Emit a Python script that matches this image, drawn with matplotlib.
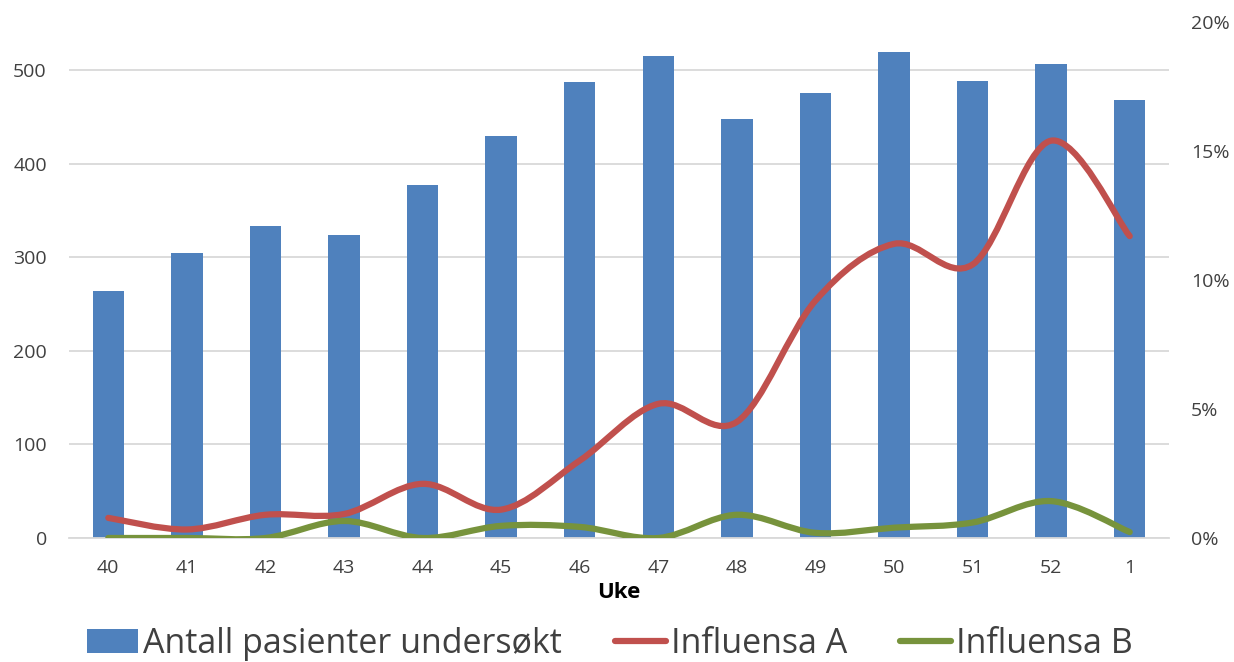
import numpy as np
import matplotlib.pyplot as plt
from matplotlib.path import Path
from matplotlib.patches import PathPatch, Patch
from matplotlib.lines import Line2D
from matplotlib.ticker import FuncFormatter

plt.rcParams['font.family'] = ['Open Sans', 'DejaVu Sans']

weeks = ['40', '41', '42', '43', '44', '45', '46', '47', '48', '49', '50', '51', '52', '1']
patients = [264, 304, 333, 324, 377, 430, 487, 515, 448, 475, 519, 488, 506, 468]
flu_a = [0.78, 0.33, 0.90, 0.93, 2.10, 1.10, 3.00, 5.20, 4.50, 9.20, 11.40, 10.60, 15.40, 11.70]
flu_b = [0.0, 0.0, 0.0, 0.66, 0.0, 0.47, 0.43, 0.0, 0.90, 0.20, 0.40, 0.60, 1.43, 0.23]

blue = '#4F81BD'
red = '#C0504D'
green = '#77933C'
grid = '#D9D9D9'
txt = '#404040'


def smooth_path(xs, ys):
    # excel-style smoothed line: catmull-rom segments as cubic bezier
    p = np.column_stack([xs, ys]).astype(float)
    n = len(p)
    verts = [p[0]]
    codes = [Path.MOVETO]
    for i in range(n - 1):
        p0 = p[i - 1] if i > 0 else p[i]
        p3 = p[i + 2] if i + 2 < n else p[i + 1]
        c1 = p[i] + (p[i + 1] - p0) / 6
        c2 = p[i + 1] - (p3 - p[i]) / 6
        verts += [c1, c2, p[i + 1]]
        codes += [Path.CURVE4] * 3
    return Path(verts, codes)


fig = plt.figure(figsize=(12.34, 6.62), dpi=100)
ax = fig.add_axes([69 / 1234, 124 / 662, 1100 / 1234, 516 / 662])
ax2 = ax.twinx()

x = np.arange(len(weeks))
ax.bar(x, patients, width=0.40, color=blue, zorder=2)
ax.set_xlim(-0.5, len(weeks) - 0.5)
ax.set_ylim(0, 551.3)
ax.set_yticks([0, 100, 200, 300, 400, 500])
ax.yaxis.grid(True, color=grid, linewidth=1.3, zorder=0)
ax.set_axisbelow(True)
ax.set_xticks(x)
ax.set_xticklabels(weeks)
ax.tick_params(axis='both', length=0, labelsize=14, labelcolor=txt)
ax.tick_params(axis='y', pad=16)
ax.tick_params(axis='x', pad=15)
ax.set_xlabel('Uke', fontsize=16, fontweight='bold', labelpad=4)

ax2.set_ylim(0, 20)
ax2.set_yticks([0, 5, 10, 15, 20])
ax2.yaxis.set_major_formatter(FuncFormatter(lambda v, pos: '%d%%' % v))
ax2.tick_params(axis='y', length=0, labelsize=14, labelcolor=txt, pad=16)

for a in (ax, ax2):
    for s in a.spines.values():
        s.set_visible(False)
ax.spines['bottom'].set_visible(True)
ax.spines['bottom'].set_color(grid)
ax.spines['bottom'].set_linewidth(1.3)

for vals, col in ((flu_a, red), (flu_b, green)):
    pp = PathPatch(smooth_path(x, vals), facecolor='none', edgecolor=col,
                   linewidth=4.5, capstyle='round', joinstyle='round', zorder=3)
    ax2.add_patch(pp)

handles = [Patch(facecolor=blue, edgecolor='none'),
           Line2D([], [], color=red, linewidth=4.5, solid_capstyle='round'),
           Line2D([], [], color=green, linewidth=4.5, solid_capstyle='round')]
labels = ['Antall pasienter undersøkt', 'Influensa A', 'Influensa B']
leg = fig.legend(handles, labels, loc='center left', bbox_to_anchor=(87 / 1234, 18 / 662),
                 ncol=3, frameon=False, fontsize=24.5, handlelength=1.5, borderpad=0,
                 borderaxespad=0, handletextpad=0.15, columnspacing=1.55, labelcolor=txt)

fig.savefig('out.png', dpi=100)
